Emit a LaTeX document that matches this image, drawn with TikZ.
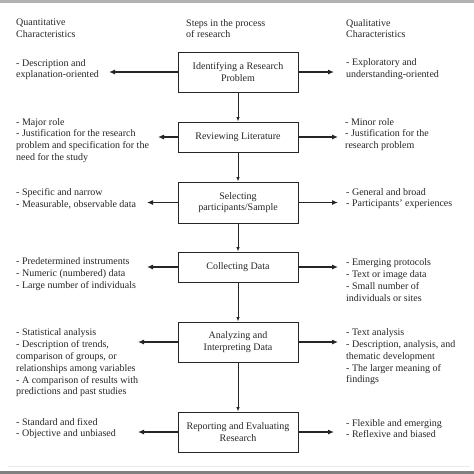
\documentclass[tikz,border=0pt]{standalone}
\usepackage{fontspec}
\setmainfont{Liberation Serif}
\usetikzlibrary{arrows.meta}
\begin{document}
\begin{tikzpicture}[x=1pt,y=-1pt,
  stepbox/.style={draw=black!85,line width=1pt,minimum width=120pt,align=center,inner sep=2pt,
    font=\fontsize{10}{11.8}\selectfont,text=black!85},
  sidetxt/.style={anchor=west,align=left,inner sep=0pt,font=\fontsize{10}{11.8}\selectfont,text=black!85},
  harrow/.style={draw=black!85,line width=1.1pt,-{Latex[length=6pt,width=5pt]}},
  varrow/.style={draw=black!85,line width=0.8pt,-{Latex[length=4.5pt,width=3.5pt]}}]
\useasboundingbox (0,0) rectangle (474,474);
\fill[white] (0,0) rectangle (474,474);
\fill[black!30] (0,0) rectangle (474,2.5);
\draw[black!8,line width=0.6pt] (8,466) -- (470,466);
\fill[black!50] (0,471) rectangle (474,474);

% headers
\node[sidetxt] (hq) at (16,28.5) {Quantitative\\Characteristics};
\node[sidetxt] (hs) at (186,28.5) {Steps in the process\\of research};
\node[sidetxt] (hl) at (346,28.5) {Qualitative\\Characteristics};

% steps
\node[stepbox,minimum height=40pt] (b1) at (238,72) {Identifying a Research\\Problem};
\node[stepbox,minimum height=30pt] (b2) at (238,137) {Reviewing Literature};
\node[stepbox,minimum height=41pt] (b3) at (238,202.5) {Selecting\\participants/Sample};
\node[stepbox,minimum height=30pt] (b4) at (238,267) {Collecting Data};
\node[stepbox,minimum height=40pt] (b5) at (238,342) {Analyzing and\\Interpreting Data};
\node[stepbox,minimum height=40pt] (b6) at (238,432) {Reporting and Evaluating\\Research};

\draw[varrow] (b1) -- (b2);
\draw[varrow] (b2) -- (b3);
\draw[varrow] (b3) -- (b4);
\draw[varrow] (b4) -- (b5);
\draw[varrow] (b5) -- (b6);

% side texts
\node[sidetxt] (l1) at (16,69.5) {- Description and\\explanation-oriented};
\node[sidetxt] (r1) at (346,69.5) {- Exploratory and\\understanding-oriented};
\node[sidetxt] (l2) at (16,140.5) {- Major role\\- Justification for the research\\problem and specification for the\\need for the study};
\node[sidetxt] (r2) at (345,134.5) {- Minor role\\- Justification for the\\research problem};
\node[sidetxt] (l3) at (16,198.5) {- Specific and narrow\\- Measurable, observable data};
\node[sidetxt] (r3) at (346,198.5) {- General and broad\\- Participants' experiences};
\node[sidetxt] (l4) at (16,274) {- Predetermined instruments\\- Numeric (numbered) data\\- Large number of individuals};
\node[sidetxt] (r4) at (346,280) {- Emerging protocols\\- Text or image data\\- Small number of\\individuals or sites};
\node[sidetxt] (l5) at (16,363) {- Statistical analysis\\- Description of trends,\\comparison of groups, or\\relationships among variables\\- A comparison of results with\\predictions and past studies};
\node[sidetxt] (r5) at (346,357) {- Text analysis\\- Description, analysis, and\\thematic development\\- The larger meaning of\\findings};
\node[sidetxt] (l6) at (16,428.5) {- Standard and fixed\\- Objective and unbiased};
\node[sidetxt] (r6) at (346,428.5) {- Flexible and emerging\\- Reflexive and biased};

% arrow tips
\coordinate (tl1) at (109,72);  \coordinate (tr1) at (334,72);
\coordinate (tl2) at (158,137); \coordinate (tr2) at (338,137);
\coordinate (tl3) at (147,202.5); \coordinate (tr3) at (338,202.5);
\coordinate (tl4) at (147,267); \coordinate (tr4) at (338,267);
\coordinate (tl5) at (138,342); \coordinate (tr5) at (338,342);
\coordinate (tl6) at (138,432); \coordinate (tr6) at (334,432);

\foreach \i in {1,...,6}{
  \draw[harrow] (b\i.west |- tl\i) -- (tl\i);
  \draw[harrow] (b\i.east |- tr\i) -- (tr\i);
}
\end{tikzpicture}
\end{document}
